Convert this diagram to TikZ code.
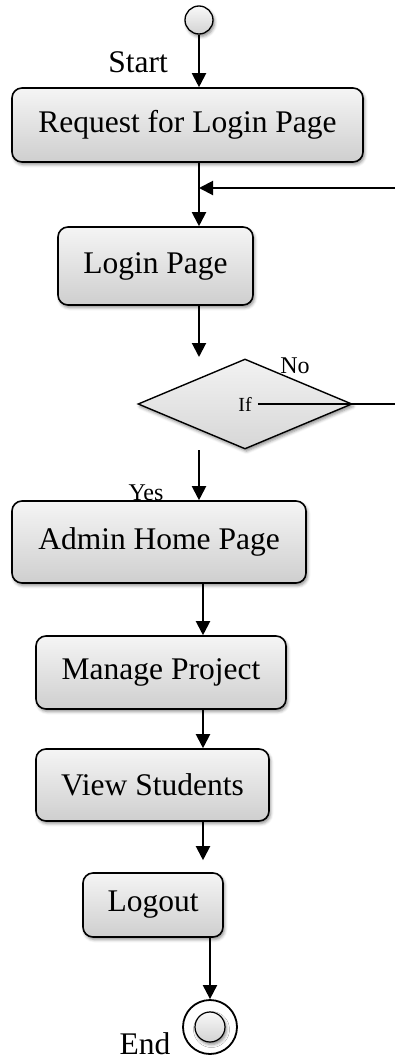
\documentclass[tikz,border=0pt]{standalone}
\usepackage{fontspec}
\setmainfont{Liberation Serif}
\usetikzlibrary{shapes.geometric,shadows.blur,arrows.meta}

\newcommand\acttxt{\fontsize{31.5}{36}\selectfont}
\newcommand\midtxt{\fontsize{24}{28}\selectfont}
\newcommand\smalltxt{\fontsize{20}{24}\selectfont}

\begin{document}
\begin{tikzpicture}[x=1pt,y=-1pt,
  softshadow/.style={blur shadow={shadow xshift=1.5pt,shadow yshift=-2.5pt,shadow blur radius=3pt,shadow opacity=45}},
  act/.style={draw=black, line width=1.6pt, rounded corners=10pt,
    top color=gray!8, bottom color=gray!38, softshadow, inner sep=0pt, font=\acttxt},
  dec/.style={diamond, draw=black, line width=1.4pt, inner sep=0pt,
    minimum width=214pt, minimum height=90pt,
    top color=gray!10, bottom color=gray!32, softshadow},
  startdot/.style={circle, draw=black, line width=1.3pt, minimum size=28pt, inner sep=0pt,
    top color=gray!5, bottom color=gray!35, softshadow},
  endring/.style={circle, draw=black, line width=1.8pt, minimum size=54pt, inner sep=0pt, fill=white},
  enddot/.style={circle, draw=black, line width=1.2pt, minimum size=30pt, inner sep=0pt,
    top color=gray!5, bottom color=gray!35, softshadow},
  lbl/.style={inner sep=0pt, font=\acttxt},
  conn/.style={line width=2pt, -{Triangle[length=14pt,width=14pt]}},
  plain/.style={line width=2pt}
]
\useasboundingbox (0,0) rectangle (395,1063);

% activities
\node[startdot] (start) at (199,20) {};
\node[act, minimum width=351pt, minimum height=74pt] (req) at (187.5,125) {Request for Login Page};
\node[act, minimum width=195pt, minimum height=78pt] (login) at (155.5,266) {Login Page};
\node[dec] (dec) at (245,404) {};
\node[inner sep=6pt, font=\smalltxt] (iflbl) at (245,404) {If};
\node[act, minimum width=294pt, minimum height=82pt] (admin) at (159,542) {Admin Home Page};
\node[act, minimum width=250pt, minimum height=73pt] (manage) at (161,672.5) {Manage Project};
\node[act, minimum width=233pt, minimum height=72pt] (view) at (152.5,785) {View Students};
\node[act, minimum width=140pt, minimum height=64pt] (logout) at (153,905) {Logout};
\node[endring] (endO) at (210,1027) {};
\node[enddot] (endI) at (210,1027) {};

% labels
\node[lbl] (startlbl) at (138,62) {Start};
\node[inner sep=0pt, font=\midtxt] (nolbl) at (295,366) {No};
\node[inner sep=0pt, font=\midtxt] (yeslbl) at (146,493) {Yes};
\node[lbl] (endlbl) at (145,1044) {End};

% helper points for the flow lines
\coordinate (backR) at (395,188);
\coordinate (decIn) at (199,357);
\coordinate (yesOut) at (199,450);
\coordinate (noR) at (395,404);
\coordinate (colB) at (203,0);

% flow
\draw[conn] (start) -- (start |- req.north);
\draw[conn] (start |- req.south) -- (start |- login.north);
\draw[conn] (backR) -- (start |- backR);
\draw[conn] (start |- login.south) -- (decIn);
\draw[plain] (iflbl.east) -- (noR);
\draw[conn] (yesOut) -- (yesOut |- admin.north);
\draw[conn] (admin.south -| colB) -- (manage.north -| colB);
\draw[conn] (manage.south -| colB) -- (view.north -| colB);
\draw[conn, shorten >=12pt] (view.south -| colB) -- (logout.north -| colB);
\draw[conn] (logout.south -| endO.north) -- (endO.north);
\end{tikzpicture}
\end{document}
